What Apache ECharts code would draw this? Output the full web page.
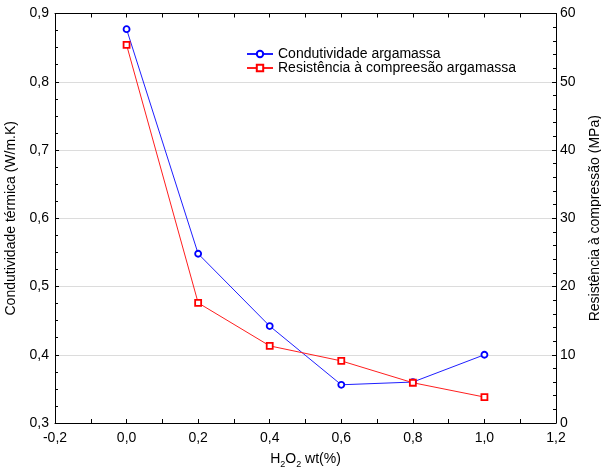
<!DOCTYPE html>
<html>
<head>
<meta charset="utf-8">
<script src="https://cdn.jsdelivr.net/npm/echarts@6/dist/echarts.min.js"></script>
<style>
html,body{margin:0;padding:0;background:#fff;}
#chart{width:601px;height:468px;}
</style>
</head>
<body>
<div id="chart"></div>
<script>
var h2o2 = [0.0, 0.2, 0.4, 0.6, 0.8, 1.0];
var condutividade = [0.877, 0.548, 0.442, 0.356, 0.360, 0.400];
var resistencia = [55.4, 17.6, 11.3, 9.1, 5.9, 3.8];
var seriesNames = ['Condutividade argamassa', 'Resistência à compreesão argamassa'];
var yLeftTitle = 'Condutividade térmica (W/m.K)';
var yRightTitle = 'Resistência à compressão (MPa)';

function pairs(xs, ys){ return xs.map(function(x,i){ return [x, ys[i]]; }); }
function comma(v){ return (Math.round(v*10)/10).toFixed(1).replace('.', ','); }

var font = 'Liberation Sans, Arial, sans-serif';
var FS = 14;
var axisLine = {show: true, onZero: false, lineStyle: {color: '#000', width: 1}};
var axisTick = {show: true, inside: true, length: 4, lineStyle: {color: '#000'}};

var chart = echarts.init(document.getElementById('chart'), null, {renderer: 'canvas'});
chart.setOption({
  backgroundColor: '#fff',
  animation: false,
  grid: {left: 55, right: 45, top: 13.5, bottom: 45, containLabel: false, outerBoundsMode: 'none'},
  legend: {
    left: 241, top: 42, orient: 'vertical', itemGap: 0, itemWidth: 26, itemHeight: 8,
    textStyle: {fontFamily: font, fontSize: FS, color: '#000'},
    data: seriesNames
  },
  xAxis: [
    {
      type: 'value', min: -0.2, max: 1.2, interval: 0.2, position: 'bottom',
      axisLine: axisLine, axisTick: axisTick,
      minorTick: {show: true, splitNumber: 2, length: 4, lineStyle: {color: '#000'}},
      splitLine: {show: false},
      axisLabel: {color: '#000', fontFamily: font, fontSize: FS, margin: 8, formatter: comma},
      name: '{a|H}{s|2}{a|O}{s|2}{a| wt(%)}', nameLocation: 'middle', nameGap: 29,
      nameTextStyle: {
        fontFamily: font, fontSize: FS, color: '#000',
        rich: {
          a: {fontFamily: font, fontSize: FS, color: '#000', verticalAlign: 'bottom'},
          s: {fontFamily: font, fontSize: 9, color: '#000', verticalAlign: 'bottom', padding: [0,0,-3,0]}
        }
      }
    },
    {
      type: 'value', min: -0.2, max: 1.2, interval: 0.2, position: 'top',
      axisLine: axisLine, axisTick: axisTick,
      minorTick: {show: true, splitNumber: 2, length: 4, lineStyle: {color: '#000'}},
      splitLine: {show: false}, axisLabel: {show: false}
    }
  ],
  yAxis: [
    {
      type: 'value', min: 0.3, max: 0.9, interval: 0.1, position: 'left',
      axisLine: axisLine, axisTick: axisTick,
      minorTick: {show: true, splitNumber: 4, length: 3, lineStyle: {color: '#000'}},
      splitLine: {show: true, lineStyle: {color: '#dcdcdc', width: 1}},
      axisLabel: {color: '#000', fontFamily: font, fontSize: FS, margin: 6, formatter: comma},
      name: yLeftTitle, nameLocation: 'middle', nameGap: 36, nameRotate: 90,
      nameTextStyle: {fontFamily: font, fontSize: FS, color: '#000'}
    },
    {
      type: 'value', min: 0, max: 60, interval: 10, position: 'right',
      axisLine: axisLine, axisTick: axisTick,
      minorTick: {show: true, splitNumber: 5, length: 3, lineStyle: {color: '#000'}},
      splitLine: {show: false},
      axisLabel: {color: '#000', fontFamily: font, fontSize: FS, margin: 4},
      name: yRightTitle, nameLocation: 'middle', nameGap: 32, nameRotate: 90,
      nameTextStyle: {fontFamily: font, fontSize: FS, color: '#000', verticalAlign: 'top'}
    }
  ],
  series: [
    {
      name: seriesNames[0], type: 'line', xAxisIndex: 0, yAxisIndex: 0,
      data: pairs(h2o2, condutividade),
      symbol: 'circle', symbolSize: 6,
      lineStyle: {color: '#1f1fff', width: 1},
      itemStyle: {color: '#fff', borderColor: '#0000ff', borderWidth: 1.8},
      color: '#0000ff'
    },
    {
      name: seriesNames[1], type: 'line', xAxisIndex: 0, yAxisIndex: 1,
      data: pairs(h2o2, resistencia),
      symbol: 'rect', symbolSize: 6,
      lineStyle: {color: '#ff1f1f', width: 1},
      itemStyle: {color: '#fff', borderColor: '#ff0000', borderWidth: 1.8},
      color: '#ff0000'
    }
  ]
});
</script>
</body>
</html>
